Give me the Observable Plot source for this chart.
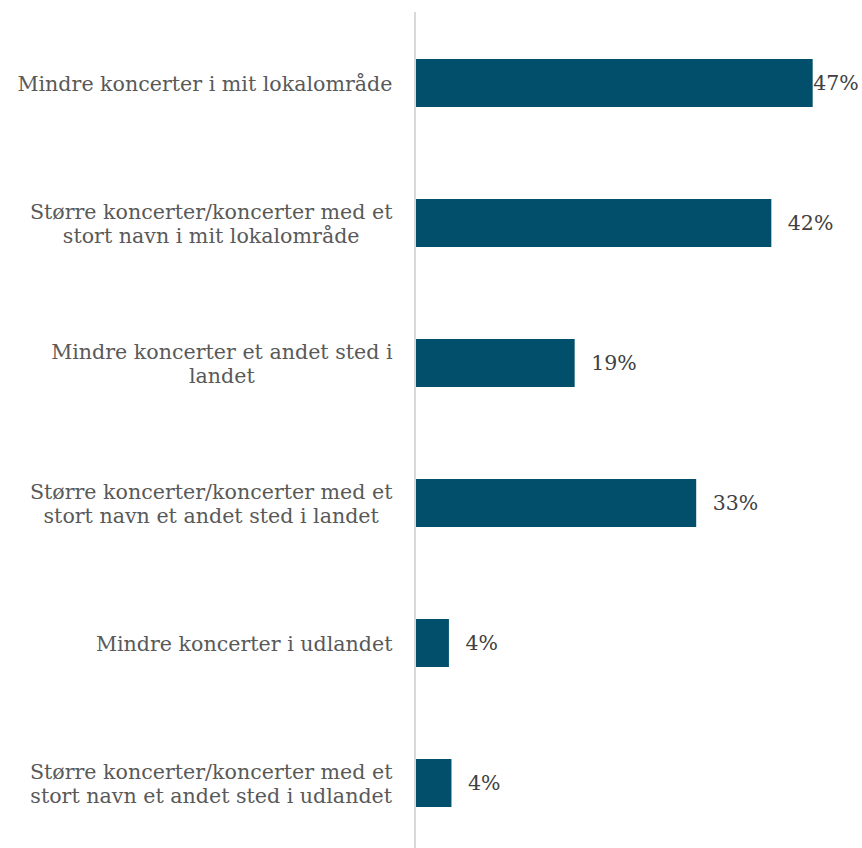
<!DOCTYPE html>
<html>
<head>
<meta charset="utf-8">
<script src="https://cdn.jsdelivr.net/npm/d3@7"></script>
<script src="https://cdn.jsdelivr.net/npm/@observablehq/plot@0.6"></script>
<style>
  html, body { margin: 0; padding: 0; background: #fff; }
  #chart svg { display: block; }
</style>
</head>
<body>
<div id="chart"></div>
<script>
const categories = [
  "Mindre koncerter i mit lokalområde",
  "Større koncerter/koncerter med et\nstort navn i mit lokalområde",
  "Mindre koncerter et andet sted i\nlandet",
  "Større koncerter/koncerter med et\nstort navn et andet sted i landet",
  "Mindre koncerter i udlandet",
  "Større koncerter/koncerter med et\nstort navn et andet sted i udlandet"
];
const values = [47, 42.1, 18.8, 33.2, 3.9, 4.2];

const data = categories.map((c, i) => ({category: c, value: values[i]}));
const maxVal = d3.max(values);
const FONT = "'DejaVu Serif', Georgia, serif";

const chart = Plot.plot({
  width: 862,
  height: 848,
  marginTop: 12,
  marginBottom: 0,
  marginLeft: 416,
  marginRight: 24,
  style: {fontFamily: FONT, background: "#fff"},
  x: {domain: [0, 50], range: [416, 838], axis: null},
  y: {domain: categories, range: [11.8, 854.2], paddingInner: 0.658, paddingOuter: 0.329, axis: null},
  marks: [
    Plot.barX(data, {x: "value", y: "category", fill: "#024f6b"}),
    Plot.ruleX([0], {stroke: "#d9d9d9", strokeWidth: 2, dx: -1.5}),
    Plot.text(data, {x: 0, y: "category", text: "category", textAnchor: "end", dx: -24,
      fill: "#595959", fontSize: 20.6, lineHeight: 1.13}),
    Plot.text(data.filter(d => d.value !== maxVal), {x: "value", y: "category",
      text: d => Math.round(d.value) + "%", textAnchor: "start", dx: 16, fill: "#404040", fontSize: 20.5}),
    Plot.text(data.filter(d => d.value === maxVal), {x: "value", y: "category",
      text: d => Math.round(d.value) + "%", textAnchor: "start", dx: 0, fill: "#404040", fontSize: 20.5})
  ]
});
document.getElementById("chart").appendChild(chart);

// center lines of multi-line labels within their right-aligned block
chart.querySelectorAll("text").forEach(t => {
  const spans = t.querySelectorAll("tspan");
  if (spans.length < 2) return;
  const widths = Array.from(spans, s => s.getComputedTextLength());
  const maxW = Math.max(...widths);
  spans.forEach((s, i) => s.setAttribute("dx", -(maxW - widths[i]) / 2));
});
</script>
</body>
</html>
